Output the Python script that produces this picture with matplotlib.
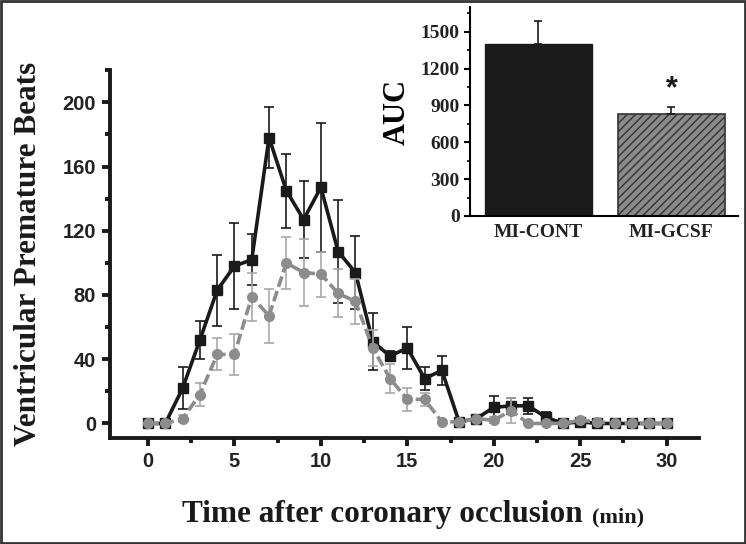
import matplotlib
matplotlib.use("Agg")
from matplotlib import pyplot as plt
from matplotlib.ticker import MultipleLocator
from matplotlib.patches import Rectangle

# time after occlusion (min)
time = list(range(0, 31))

# MI-CONT (black squares)
cont = [0, 0, 22, 52, 83, 98, 102, 178, 145, 127, 147, 107, 94, 51, 42, 47,
        28, 33, 1, 3, 10, 11, 11, 4, 0, 1, 0, 0, 0, 0, 0]
cont_err = [0, 0, 13, 12, 22, 27, 16, 19, 23, 24, 40, 32, 23, 18, 3, 13,
            7, 9, 0, 0, 7, 5, 5, 3, 0, 0, 0, 0, 0, 0, 0]

# MI-GCSF (grey circles)
gcsf = [0, 0, 3, 18, 43, 43, 79, 67, 100, 94, 93, 81, 76, 47, 28, 15,
        15, 1, 1, 3, 2, 8, 0, 0, 0, 2, 1, 0, 0, 0, 0]
gcsf_err = [0, 0, 2, 7, 10, 13, 15, 17, 16, 21, 14, 15, 14, 11, 9, 7,
            4, 0, 0, 0, 2, 8, 0, 0, 0, 0, 0, 0, 0, 0, 0]

# inset AUC
groups = ["MI-CONT", "MI-GCSF"]
auc = [1400, 830]
auc_err = [185, 60]

serif = "Liberation Serif"
sans = "Liberation Sans"

fig = plt.figure(figsize=(7.46, 5.44), dpi=100)
fig.patches.append(Rectangle((0.002, 0.002), 0.996, 0.996, transform=fig.transFigure,
                             fill=False, edgecolor="#333333", linewidth=2))

ax = fig.add_axes([0.1475, 0.195, 0.79, 0.676])
ax.errorbar(time, gcsf, yerr=gcsf_err, color="#8c8c8c", ecolor="#a8a8a8",
            linestyle="--", dashes=(3, 1.2), linewidth=2.6, marker="o", markersize=7,
            elinewidth=1.2, capsize=3.5, capthick=1.2, zorder=3)
ax.errorbar(time, cont, yerr=cont_err, color="#1a1a1a", ecolor="#1a1a1a",
            linestyle="-", linewidth=2.6, marker="s", markersize=7,
            elinewidth=1.2, capsize=3.5, capthick=1.2, zorder=2)

ax.set_xlim(-2.2, 31.9)
ax.set_ylim(-9, 220)
ax.xaxis.set_major_locator(MultipleLocator(5))
ax.xaxis.set_minor_locator(MultipleLocator(2.5))
ax.yaxis.set_minor_locator(MultipleLocator(20))
ax.set_yticks(range(0, 201, 40))
for s in ["top", "right"]:
    ax.spines[s].set_visible(False)
for s in ["left", "bottom"]:
    ax.spines[s].set_linewidth(2.8)
    ax.spines[s].set_color("#1a1a1a")
ax.tick_params(which="major", direction="out", length=6, width=2.8, color="#1a1a1a",
               labelsize=14.5, pad=4)
ax.tick_params(which="minor", direction="out", length=3.5, width=2.8, color="#1a1a1a")
for lab in ax.get_xticklabels() + ax.get_yticklabels():
    lab.set_fontfamily(sans)
    lab.set_fontweight("bold")
    lab.set_color("#222222")

ax.set_ylabel("Ventricular Premature Beats", fontfamily=serif, fontweight="bold",
              fontsize=22.5, color="#1a1a1a", labelpad=14)
fig.text(182 / 746, 1 - 522 / 544, "Time after coronary occlusion", fontfamily=serif,
         fontweight="bold", fontsize=22.5, color="#1a1a1a", va="baseline")
fig.text(592 / 746, 1 - 522 / 544, "(min)", fontfamily=serif, fontweight="bold",
         fontsize=16, color="#1a1a1a", va="baseline")

# inset
ins = fig.add_axes([0.630, 0.603, 0.359, 0.384])
ins.bar([0], [auc[0]], width=0.8, color="#1a1a1a", edgecolor="#1a1a1a")
ins.bar([1], [auc[1]], width=0.8, color="#8a8a8a", edgecolor="#333333",
        hatch="////", linewidth=1.2)
ins.errorbar([0, 1], auc, yerr=[[0, 0], auc_err], fmt="none", ecolor="#1a1a1a",
             elinewidth=1.2, capsize=3, capthick=1.2)
ins.text(1, 1030, "*", ha="center", va="center",
         fontsize=22, fontweight="bold", fontfamily=sans, color="#1a1a1a")
ins.set_xlim(-0.515, 1.5)
ins.set_ylim(0, 1700)
ins.set_xticks([0, 1])
ins.set_xticklabels(groups)
ins.yaxis.set_major_locator(MultipleLocator(300))
ins.yaxis.set_minor_locator(MultipleLocator(150))
for s in ["top", "right"]:
    ins.spines[s].set_visible(False)
for s in ["left", "bottom"]:
    ins.spines[s].set_linewidth(1.5)
ins.tick_params(axis="y", which="major", direction="out", length=4, width=1.5, labelsize=14)
ins.tick_params(axis="y", which="minor", direction="out", length=2.5, width=1.2)
ins.tick_params(axis="x", length=0, labelsize=14, pad=6)
for lab in ins.get_xticklabels() + ins.get_yticklabels():
    lab.set_fontfamily(serif)
    lab.set_fontweight("bold")
    lab.set_color("#222222")
ins.set_ylabel("AUC", fontfamily=serif, fontweight="bold", fontsize=22, labelpad=6)

fig.savefig("out.png", dpi=100)
